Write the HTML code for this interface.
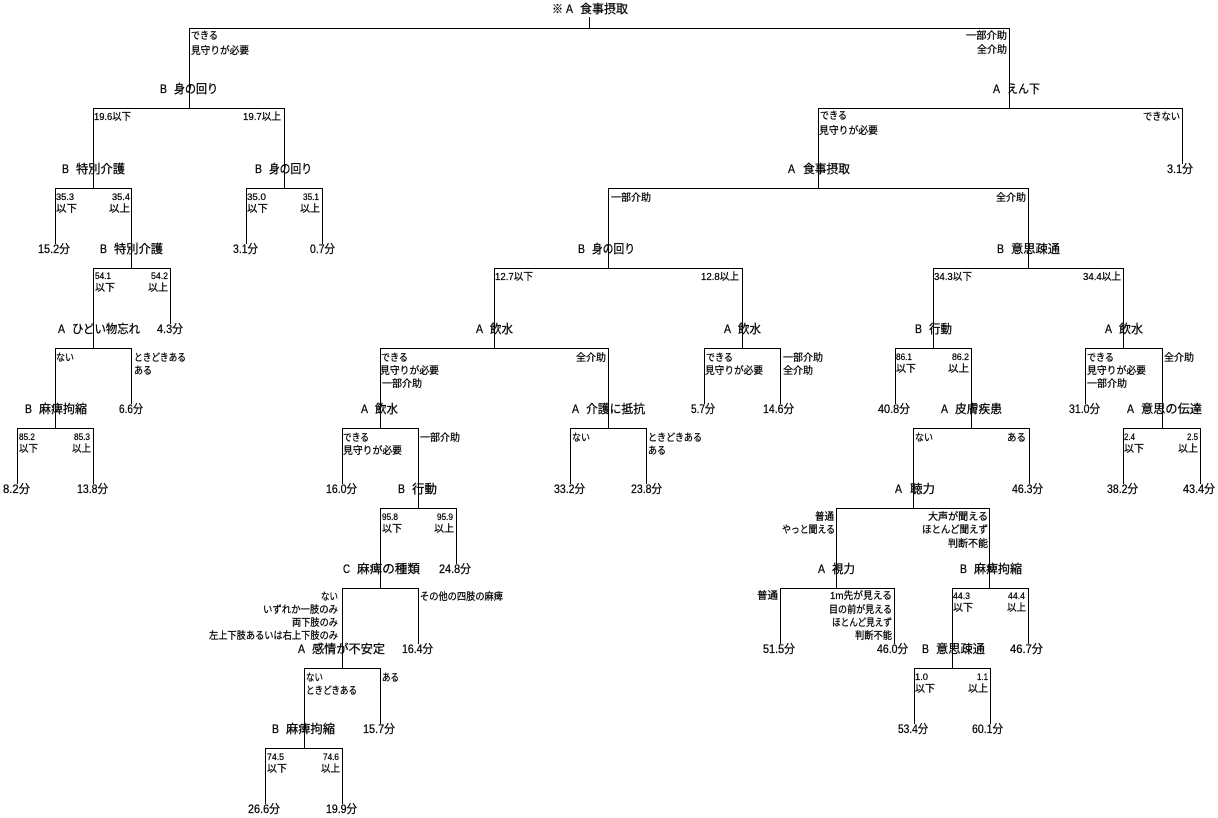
<!DOCTYPE html>
<html><head><meta charset="utf-8"><style>
html,body{margin:0;padding:0;background:#fff;}
svg{display:block;}
text{font-family:"Liberation Sans","Noto Sans CJK JP",sans-serif;fill:#000;stroke:#000;stroke-width:0.25px;}
.n{font-size:12px;}
.b{font-size:10px;}
.d{font-size:9px;}
</style></head><body>
<svg width="1218" height="818" viewBox="0 0 1218 818" xmlns="http://www.w3.org/2000/svg">
<rect width="1218" height="818" fill="#fff"/>
<g stroke="#000" stroke-width="1" fill="none" shape-rendering="crispEdges">
<path d="
M589.5 17V29 M189.5 28V109 M1009.5 28V109
M93.5 108V189 M284.5 108V189 M818.5 108V189 M1182.5 108V164
M55.5 188V244 M131.5 188V269 M246.5 188V244 M322.5 188V244 M608.5 188V269 M1028.5 188V269
M93.5 268V349 M170.5 268V324 M494.5 268V349 M742.5 268V349 M933.5 268V349 M1123.5 268V349
M55.5 348V429 M131.5 348V404 M380.5 348V429 M608.5 348V429 M704.5 348V404 M780.5 348V404 M895.5 348V404 M971.5 348V429 M1085.5 348V404 M1162.5 348V429
M17.5 428V484 M93.5 428V484 M342.5 428V484 M418.5 428V509 M570.5 428V484 M646.5 428V484 M913.5 428V509 M1029.5 428V484 M1123.5 428V484 M1200.5 428V484
M380.5 508V589 M456.5 508V564 M836.5 508V589 M989.5 508V589
M342.5 588V669 M418.5 588V644 M780.5 588V644 M894.5 588V644 M952.5 588V669 M1028.5 588V644
M304.5 668V749 M380.5 668V724 M914.5 668V724 M990.5 668V724
M265.5 748V804 M342.5 748V804
M189 28.5H1010 M93 108.5H285 M818 108.5H1183
M55 188.5H132 M246 188.5H323 M608 188.5H1029
M93 268.5H171 M494 268.5H743 M933 268.5H1124
M55 348.5H132 M380 348.5H609 M704 348.5H781 M895 348.5H972 M1085 348.5H1163
M17 428.5H94 M342 428.5H419 M570 428.5H647 M913 428.5H1030 M1123 428.5H1201
M380 508.5H457 M836 508.5H990
M342 588.5H419 M780 588.5H895 M952 588.5H1029
M304 668.5H381 M914 668.5H991
M265 748.5H343
"/>
</g>

<!-- Node labels (letter + name) -->
<g class="n">
<text class="n" x="552" y="13" textLength="11" lengthAdjust="spacingAndGlyphs">※</text>
<text class="n" x="566" y="13" textLength="7" lengthAdjust="spacingAndGlyphs">A</text>
<text class="n" x="580" y="13" textLength="48" lengthAdjust="spacingAndGlyphs">食事摂取</text>

<text class="n" x="160" y="93" textLength="7" lengthAdjust="spacingAndGlyphs">B</text>
<text class="n" x="174" y="93" textLength="44" lengthAdjust="spacingAndGlyphs">身の回り</text>
<text class="n" x="993" y="93" textLength="7" lengthAdjust="spacingAndGlyphs">A</text>
<text class="n" x="1007" y="93" textLength="33" lengthAdjust="spacingAndGlyphs">えん下</text>

<text class="n" x="62" y="173" textLength="7" lengthAdjust="spacingAndGlyphs">B</text>
<text class="n" x="76" y="173" textLength="49" lengthAdjust="spacingAndGlyphs">特別介護</text>
<text class="n" x="255" y="173" textLength="7" lengthAdjust="spacingAndGlyphs">B</text>
<text class="n" x="269" y="173" textLength="43" lengthAdjust="spacingAndGlyphs">身の回り</text>
<text class="n" x="788" y="173" textLength="7" lengthAdjust="spacingAndGlyphs">A</text>
<text class="n" x="803" y="173" textLength="47" lengthAdjust="spacingAndGlyphs">食事摂取</text>

<text class="n" x="100" y="253" textLength="7" lengthAdjust="spacingAndGlyphs">B</text>
<text class="n" x="114" y="253" textLength="49" lengthAdjust="spacingAndGlyphs">特別介護</text>
<text class="n" x="578" y="253" textLength="7" lengthAdjust="spacingAndGlyphs">B</text>
<text class="n" x="592" y="253" textLength="43" lengthAdjust="spacingAndGlyphs">身の回り</text>
<text class="n" x="997" y="253" textLength="7" lengthAdjust="spacingAndGlyphs">B</text>
<text class="n" x="1011" y="253" textLength="49" lengthAdjust="spacingAndGlyphs">意思疎通</text>

<text class="n" x="58" y="333" textLength="7" lengthAdjust="spacingAndGlyphs">A</text>
<text class="n" x="72" y="333" textLength="68" lengthAdjust="spacingAndGlyphs">ひどい物忘れ</text>
<text class="n" x="476" y="333" textLength="7" lengthAdjust="spacingAndGlyphs">A</text>
<text class="n" x="490" y="333" textLength="23" lengthAdjust="spacingAndGlyphs">飲水</text>
<text class="n" x="724" y="333" textLength="7" lengthAdjust="spacingAndGlyphs">A</text>
<text class="n" x="738" y="333" textLength="23" lengthAdjust="spacingAndGlyphs">飲水</text>
<text class="n" x="915" y="333" textLength="7" lengthAdjust="spacingAndGlyphs">B</text>
<text class="n" x="929" y="333" textLength="23" lengthAdjust="spacingAndGlyphs">行動</text>
<text class="n" x="1105" y="333" textLength="7" lengthAdjust="spacingAndGlyphs">A</text>
<text class="n" x="1119" y="333" textLength="24" lengthAdjust="spacingAndGlyphs">飲水</text>

<text class="n" x="25" y="413" textLength="7" lengthAdjust="spacingAndGlyphs">B</text>
<text class="n" x="39" y="413" textLength="48" lengthAdjust="spacingAndGlyphs">麻痺拘縮</text>
<text class="n" x="361" y="413" textLength="7" lengthAdjust="spacingAndGlyphs">A</text>
<text class="n" x="375" y="413" textLength="23" lengthAdjust="spacingAndGlyphs">飲水</text>
<text class="n" x="572" y="413" textLength="7" lengthAdjust="spacingAndGlyphs">A</text>
<text class="n" x="586" y="413" textLength="59" lengthAdjust="spacingAndGlyphs">介護に抵抗</text>
<text class="n" x="941" y="413" textLength="7" lengthAdjust="spacingAndGlyphs">A</text>
<text class="n" x="955" y="413" textLength="47" lengthAdjust="spacingAndGlyphs">皮膚疾患</text>
<text class="n" x="1127" y="413" textLength="7" lengthAdjust="spacingAndGlyphs">A</text>
<text class="n" x="1141" y="413" textLength="61" lengthAdjust="spacingAndGlyphs">意思の伝達</text>

<text class="n" x="398" y="493" textLength="7" lengthAdjust="spacingAndGlyphs">B</text>
<text class="n" x="412" y="493" textLength="25" lengthAdjust="spacingAndGlyphs">行動</text>
<text class="n" x="895" y="493" textLength="7" lengthAdjust="spacingAndGlyphs">A</text>
<text class="n" x="910" y="493" textLength="25" lengthAdjust="spacingAndGlyphs">聴力</text>

<text class="n" x="343" y="573" textLength="7" lengthAdjust="spacingAndGlyphs">C</text>
<text class="n" x="357" y="573" textLength="63" lengthAdjust="spacingAndGlyphs">麻痺の種類</text>
<text class="n" x="818" y="573" textLength="7" lengthAdjust="spacingAndGlyphs">A</text>
<text class="n" x="832" y="573" textLength="23" lengthAdjust="spacingAndGlyphs">視力</text>
<text class="n" x="960" y="573" textLength="7" lengthAdjust="spacingAndGlyphs">B</text>
<text class="n" x="974" y="573" textLength="48" lengthAdjust="spacingAndGlyphs">麻痺拘縮</text>

<text class="n" x="298" y="653" textLength="7" lengthAdjust="spacingAndGlyphs">A</text>
<text class="n" x="312" y="653" textLength="73" lengthAdjust="spacingAndGlyphs">感情が不安定</text>
<text class="n" x="922" y="653" textLength="7" lengthAdjust="spacingAndGlyphs">B</text>
<text class="n" x="936" y="653" textLength="49" lengthAdjust="spacingAndGlyphs">意思疎通</text>

<text class="n" x="272" y="733" textLength="7" lengthAdjust="spacingAndGlyphs">B</text>
<text class="n" x="286" y="733" textLength="49" lengthAdjust="spacingAndGlyphs">麻痺拘縮</text>
</g>

<!-- Leaf labels -->
<g>
<text class="n" x="1167" y="173" textLength="26" lengthAdjust="spacingAndGlyphs">3.1分</text>
<text class="n" x="38" y="253" textLength="32" lengthAdjust="spacingAndGlyphs">15.2分</text>
<text class="n" x="233" y="253" textLength="25" lengthAdjust="spacingAndGlyphs">3.1分</text>
<text class="n" x="310" y="253" textLength="25" lengthAdjust="spacingAndGlyphs">0.7分</text>
<text class="n" x="157" y="333" textLength="26" lengthAdjust="spacingAndGlyphs">4.3分</text>
<text class="n" x="119" y="413" textLength="24" lengthAdjust="spacingAndGlyphs">6.6分</text>
<text class="n" x="691" y="413" textLength="24" lengthAdjust="spacingAndGlyphs">5.7分</text>
<text class="n" x="763" y="413" textLength="31" lengthAdjust="spacingAndGlyphs">14.6分</text>
<text class="n" x="878" y="413" textLength="32" lengthAdjust="spacingAndGlyphs">40.8分</text>
<text class="n" x="1069" y="413" textLength="31" lengthAdjust="spacingAndGlyphs">31.0分</text>
<text class="n" x="3" y="493" textLength="27" lengthAdjust="spacingAndGlyphs">8.2分</text>
<text class="n" x="77" y="493" textLength="31" lengthAdjust="spacingAndGlyphs">13.8分</text>
<text class="n" x="326" y="493" textLength="31" lengthAdjust="spacingAndGlyphs">16.0分</text>
<text class="n" x="554" y="493" textLength="31" lengthAdjust="spacingAndGlyphs">33.2分</text>
<text class="n" x="631" y="493" textLength="31" lengthAdjust="spacingAndGlyphs">23.8分</text>
<text class="n" x="1012" y="493" textLength="31" lengthAdjust="spacingAndGlyphs">46.3分</text>
<text class="n" x="1107" y="493" textLength="31" lengthAdjust="spacingAndGlyphs">38.2分</text>
<text class="n" x="1183" y="493" textLength="32" lengthAdjust="spacingAndGlyphs">43.4分</text>
<text class="n" x="439" y="573" textLength="32" lengthAdjust="spacingAndGlyphs">24.8分</text>
<text class="n" x="402" y="653" textLength="31" lengthAdjust="spacingAndGlyphs">16.4分</text>
<text class="n" x="763" y="653" textLength="32" lengthAdjust="spacingAndGlyphs">51.5分</text>
<text class="n" x="877" y="653" textLength="31" lengthAdjust="spacingAndGlyphs">46.0分</text>
<text class="n" x="1010" y="653" textLength="33" lengthAdjust="spacingAndGlyphs">46.7分</text>
<text class="n" x="363" y="733" textLength="32" lengthAdjust="spacingAndGlyphs">15.7分</text>
<text class="n" x="898" y="733" textLength="30" lengthAdjust="spacingAndGlyphs">53.4分</text>
<text class="n" x="972" y="733" textLength="31" lengthAdjust="spacingAndGlyphs">60.1分</text>
<text class="n" x="248" y="813" textLength="32" lengthAdjust="spacingAndGlyphs">26.6分</text>
<text class="n" x="326" y="813" textLength="31" lengthAdjust="spacingAndGlyphs">19.9分</text>
</g>

<!-- Branch labels -->
<g>
<text class="b" x="191" y="39" textLength="27" lengthAdjust="spacingAndGlyphs">できる</text>
<text class="b" x="191" y="54" textLength="58" lengthAdjust="spacingAndGlyphs">見守りが必要</text>
<text class="b" x="966" y="39" textLength="41" lengthAdjust="spacingAndGlyphs">一部介助</text>
<text class="b" x="977" y="53" textLength="30" lengthAdjust="spacingAndGlyphs">全介助</text>

<text class="b" x="94" y="120" textLength="37" lengthAdjust="spacingAndGlyphs">19.6以下</text>
<text class="b" x="243" y="120" textLength="38" lengthAdjust="spacingAndGlyphs">19.7以上</text>
<text class="b" x="820" y="119" textLength="27" lengthAdjust="spacingAndGlyphs">できる</text>
<text class="b" x="819" y="134" textLength="59" lengthAdjust="spacingAndGlyphs">見守りが必要</text>
<text class="b" x="1143" y="120" textLength="37" lengthAdjust="spacingAndGlyphs">できない</text>

<text class="d" x="56" y="200" textLength="18" lengthAdjust="spacingAndGlyphs">35.3</text>
<text class="b" x="56" y="212" textLength="21" lengthAdjust="spacingAndGlyphs">以下</text>
<text class="d" x="112" y="200" textLength="18" lengthAdjust="spacingAndGlyphs">35.4</text>
<text class="b" x="109" y="212" textLength="21" lengthAdjust="spacingAndGlyphs">以上</text>
<text class="d" x="247" y="200" textLength="19" lengthAdjust="spacingAndGlyphs">35.0</text>
<text class="b" x="247" y="212" textLength="21" lengthAdjust="spacingAndGlyphs">以下</text>
<text class="d" x="303" y="200" textLength="16" lengthAdjust="spacingAndGlyphs">35.1</text>
<text class="b" x="300" y="212" textLength="20" lengthAdjust="spacingAndGlyphs">以上</text>
<text class="b" x="611" y="201" textLength="40" lengthAdjust="spacingAndGlyphs">一部介助</text>
<text class="b" x="996" y="201" textLength="30" lengthAdjust="spacingAndGlyphs">全介助</text>

<text class="d" x="95" y="279" textLength="16" lengthAdjust="spacingAndGlyphs">54.1</text>
<text class="b" x="95" y="291" textLength="20" lengthAdjust="spacingAndGlyphs">以下</text>
<text class="d" x="151" y="279" textLength="17" lengthAdjust="spacingAndGlyphs">54.2</text>
<text class="b" x="148" y="291" textLength="20" lengthAdjust="spacingAndGlyphs">以上</text>
<text class="b" x="495" y="280" textLength="38" lengthAdjust="spacingAndGlyphs">12.7以下</text>
<text class="b" x="701" y="280" textLength="38" lengthAdjust="spacingAndGlyphs">12.8以上</text>
<text class="b" x="934" y="280" textLength="38" lengthAdjust="spacingAndGlyphs">34.3以下</text>
<text class="b" x="1083" y="280" textLength="38" lengthAdjust="spacingAndGlyphs">34.4以上</text>

<text class="b" x="56" y="361" textLength="18" lengthAdjust="spacingAndGlyphs">ない</text>
<text class="b" x="134" y="361" textLength="52" lengthAdjust="spacingAndGlyphs">ときどきある</text>
<text class="b" x="134" y="374" textLength="18" lengthAdjust="spacingAndGlyphs">ある</text>

<text class="b" x="381" y="361" textLength="27" lengthAdjust="spacingAndGlyphs">できる</text>
<text class="b" x="380" y="374" textLength="59" lengthAdjust="spacingAndGlyphs">見守りが必要</text>
<text class="b" x="382" y="387" textLength="40" lengthAdjust="spacingAndGlyphs">一部介助</text>
<text class="b" x="576" y="361" textLength="30" lengthAdjust="spacingAndGlyphs">全介助</text>

<text class="b" x="706" y="361" textLength="27" lengthAdjust="spacingAndGlyphs">できる</text>
<text class="b" x="705" y="374" textLength="58" lengthAdjust="spacingAndGlyphs">見守りが必要</text>
<text class="b" x="783" y="361" textLength="40" lengthAdjust="spacingAndGlyphs">一部介助</text>
<text class="b" x="783" y="374" textLength="30" lengthAdjust="spacingAndGlyphs">全介助</text>

<text class="d" x="896" y="360" textLength="16" lengthAdjust="spacingAndGlyphs">86.1</text>
<text class="b" x="896" y="372" textLength="20" lengthAdjust="spacingAndGlyphs">以下</text>
<text class="d" x="952" y="360" textLength="17" lengthAdjust="spacingAndGlyphs">86.2</text>
<text class="b" x="948" y="372" textLength="21" lengthAdjust="spacingAndGlyphs">以上</text>

<text class="b" x="1087" y="361" textLength="27" lengthAdjust="spacingAndGlyphs">できる</text>
<text class="b" x="1087" y="374" textLength="59" lengthAdjust="spacingAndGlyphs">見守りが必要</text>
<text class="b" x="1087" y="387" textLength="40" lengthAdjust="spacingAndGlyphs">一部介助</text>
<text class="b" x="1164" y="361" textLength="30" lengthAdjust="spacingAndGlyphs">全介助</text>

<text class="d" x="19" y="440" textLength="16" lengthAdjust="spacingAndGlyphs">85.2</text>
<text class="b" x="19" y="452" textLength="19" lengthAdjust="spacingAndGlyphs">以下</text>
<text class="d" x="74" y="440" textLength="16" lengthAdjust="spacingAndGlyphs">85.3</text>
<text class="b" x="72" y="452" textLength="19" lengthAdjust="spacingAndGlyphs">以上</text>

<text class="b" x="343" y="441" textLength="26" lengthAdjust="spacingAndGlyphs">できる</text>
<text class="b" x="343" y="454" textLength="59" lengthAdjust="spacingAndGlyphs">見守りが必要</text>
<text class="b" x="420" y="441" textLength="40" lengthAdjust="spacingAndGlyphs">一部介助</text>

<text class="b" x="572" y="441" textLength="18" lengthAdjust="spacingAndGlyphs">ない</text>
<text class="b" x="648" y="441" textLength="54" lengthAdjust="spacingAndGlyphs">ときどきある</text>
<text class="b" x="648" y="454" textLength="18" lengthAdjust="spacingAndGlyphs">ある</text>

<text class="b" x="915" y="441" textLength="18" lengthAdjust="spacingAndGlyphs">ない</text>
<text class="b" x="1007" y="441" textLength="19" lengthAdjust="spacingAndGlyphs">ある</text>

<text class="d" x="1124" y="440" textLength="11" lengthAdjust="spacingAndGlyphs">2.4</text>
<text class="b" x="1124" y="452" textLength="20" lengthAdjust="spacingAndGlyphs">以下</text>
<text class="d" x="1187" y="440" textLength="11" lengthAdjust="spacingAndGlyphs">2.5</text>
<text class="b" x="1178" y="452" textLength="20" lengthAdjust="spacingAndGlyphs">以上</text>

<text class="d" x="382" y="520" textLength="16" lengthAdjust="spacingAndGlyphs">95.8</text>
<text class="b" x="382" y="532" textLength="20" lengthAdjust="spacingAndGlyphs">以下</text>
<text class="d" x="437" y="520" textLength="16" lengthAdjust="spacingAndGlyphs">95.9</text>
<text class="b" x="434" y="532" textLength="20" lengthAdjust="spacingAndGlyphs">以上</text>

<text class="b" x="815" y="520" textLength="19" lengthAdjust="spacingAndGlyphs">普通</text>
<text class="b" x="782" y="533" textLength="53" lengthAdjust="spacingAndGlyphs">やっと聞える</text>
<text class="b" x="928" y="520" textLength="60" lengthAdjust="spacingAndGlyphs">大声が聞える</text>
<text class="b" x="922" y="533" textLength="66" lengthAdjust="spacingAndGlyphs">ほとんど聞えず</text>
<text class="b" x="948" y="547" textLength="40" lengthAdjust="spacingAndGlyphs">判断不能</text>

<text class="b" x="321" y="600" textLength="17" lengthAdjust="spacingAndGlyphs">ない</text>
<text class="b" x="263" y="613" textLength="75" lengthAdjust="spacingAndGlyphs">いずれか一肢のみ</text>
<text class="b" x="292" y="626" textLength="46" lengthAdjust="spacingAndGlyphs">両下肢のみ</text>
<text class="b" x="209" y="639" textLength="129" lengthAdjust="spacingAndGlyphs">左上下肢あるいは右上下肢のみ</text>
<text class="b" x="420" y="600" textLength="83" lengthAdjust="spacingAndGlyphs">その他の四肢の麻痺</text>

<text class="b" x="757" y="599" textLength="21" lengthAdjust="spacingAndGlyphs">普通</text>
<text class="b" x="830" y="599" textLength="62" lengthAdjust="spacingAndGlyphs">1m先が見える</text>
<text class="b" x="829" y="613" textLength="63" lengthAdjust="spacingAndGlyphs">目の前が見える</text>
<text class="b" x="832" y="626" textLength="60" lengthAdjust="spacingAndGlyphs">ほとんど見えず</text>
<text class="b" x="855" y="639" textLength="37" lengthAdjust="spacingAndGlyphs">判断不能</text>

<text class="d" x="953" y="599" textLength="17" lengthAdjust="spacingAndGlyphs">44.3</text>
<text class="b" x="953" y="611" textLength="20" lengthAdjust="spacingAndGlyphs">以下</text>
<text class="d" x="1008" y="599" textLength="17" lengthAdjust="spacingAndGlyphs">44.4</text>
<text class="b" x="1007" y="611" textLength="19" lengthAdjust="spacingAndGlyphs">以上</text>

<text class="b" x="306" y="681" textLength="17" lengthAdjust="spacingAndGlyphs">ない</text>
<text class="b" x="306" y="694" textLength="51" lengthAdjust="spacingAndGlyphs">ときどきある</text>
<text class="b" x="382" y="681" textLength="17" lengthAdjust="spacingAndGlyphs">ある</text>

<text class="d" x="915" y="680" textLength="13" lengthAdjust="spacingAndGlyphs">1.0</text>
<text class="b" x="915" y="692" textLength="20" lengthAdjust="spacingAndGlyphs">以下</text>
<text class="d" x="977" y="680" textLength="11" lengthAdjust="spacingAndGlyphs">1.1</text>
<text class="b" x="968" y="692" textLength="20" lengthAdjust="spacingAndGlyphs">以上</text>

<text class="d" x="267" y="760" textLength="17" lengthAdjust="spacingAndGlyphs">74.5</text>
<text class="b" x="267" y="772" textLength="20" lengthAdjust="spacingAndGlyphs">以下</text>
<text class="d" x="323" y="760" textLength="16" lengthAdjust="spacingAndGlyphs">74.6</text>
<text class="b" x="321" y="772" textLength="19" lengthAdjust="spacingAndGlyphs">以上</text>
</g>
</svg>
</body></html>
